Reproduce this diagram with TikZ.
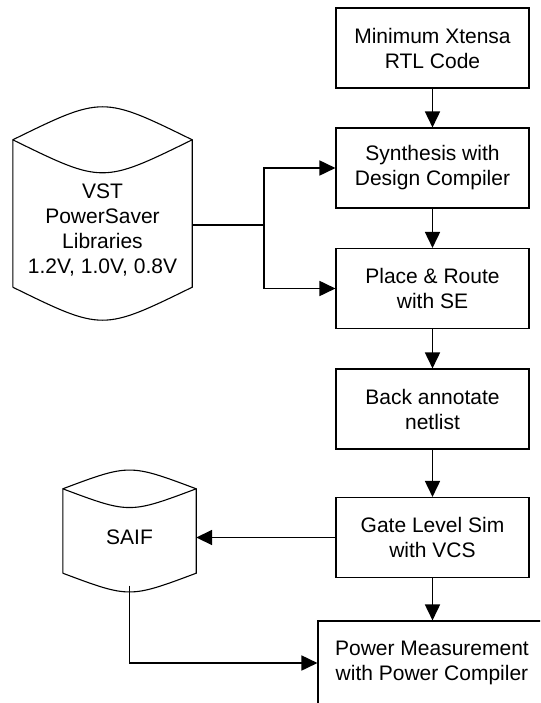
\documentclass[tikz,border=0pt]{standalone}
\usepackage{fontspec}
\setmainfont{Liberation Sans}
\usetikzlibrary{arrows.meta,calc}
\begin{document}
\begin{tikzpicture}[x=1pt,y=-1pt,
  box/.style={draw, line width=1.1pt, minimum width=193pt, minimum height=80pt, align=center, inner sep=0pt, font=\fontsize{21}{25}\selectfont},
  lbl/.style={align=center, inner sep=0pt, font=\fontsize{21}{25}\selectfont},
  body/.style={inner sep=0pt, draw=none},
  arr/.style={line width=1.7pt, -{Triangle[length=16pt,width=15pt]}},
  conn/.style={line width=1.7pt},
  cyl/.style={line width=1.1pt}]
\useasboundingbox (0,0) rectangle (540,703);
\clip (0,0) rectangle (540,703);

% process boxes
\node[box] (b1) at (432.5,48) {Minimum Xtensa\\RTL Code};
\node[box] (b2) at (432.5,168) {Synthesis with\\Design Compiler};
\node[box] (b3) at (432.5,288.5) {Place \& Route\\with SE};
\node[box] (b4) at (432.5,409) {Back annotate\\netlist};
\node[box] (b5) at (432.5,537.5) {Gate Level Sim\\with VCS};
\node[box, minimum width=228pt, minimum height=84pt] (b6) at (432,663) {Power Measurement\\with Power Compiler};

% VST cylinder
\node[body, minimum width=179pt, minimum height=147pt] (vst) at (102.5,213.5) {};
\draw[cyl] (vst.south west) -- (vst.north west)
  .. controls ($(vst.north)+(0,-44)$) .. (vst.north east)
  -- (vst.south east)
  .. controls ($(vst.south)+(0,44)$) .. (vst.south west);
\draw[cyl] (vst.north west) .. controls ($(vst.north)+(0,44)$) .. (vst.north east);
\node[lbl] (vsttxt) at (102.5,230) {VST\\PowerSaver\\Libraries\\1.2V, 1.0V, 0.8V};

% SAIF cylinder
\node[body, minimum width=133pt, minimum height=84pt] (saif) at (129.5,531) {};
\draw[cyl] (saif.south west) -- (saif.north west)
  .. controls ($(saif.north)+(0,-25)$) .. (saif.north east)
  -- (saif.south east)
  .. controls ($(saif.south)+(0,25)$) .. (saif.south west);
\draw[cyl] (saif.north west) .. controls ($(saif.north)+(0,25)$) .. (saif.north east);
\node[lbl] (saiftxt) at (129.5,537) {SAIF};

% connectors
\coordinate (vstout) at ($(vst.east)+(0,11.5)$);
\coordinate (split) at (264,225);
\draw[conn] (vstout) -- (split);
\draw[arr] (split) |- (b2.west);
\draw[arr] (split) |- (b3.west);
\draw[arr] (b1.south) -- (b2.north);
\draw[arr] (b2.south) -- (b3.north);
\draw[arr] (b3.south) -- (b4.north);
\draw[arr] (b4.south) -- (b5.north);
\draw[arr] (b5.south) -- (b5.south |- b6.north);
\draw[arr] (b5.west) -- (b5.west -| saif.east);
\coordinate (saifbot) at ($(saif.south)+(0,12.5)$);
\draw[arr] (saifbot) |- (b6.west);
\end{tikzpicture}
\end{document}
